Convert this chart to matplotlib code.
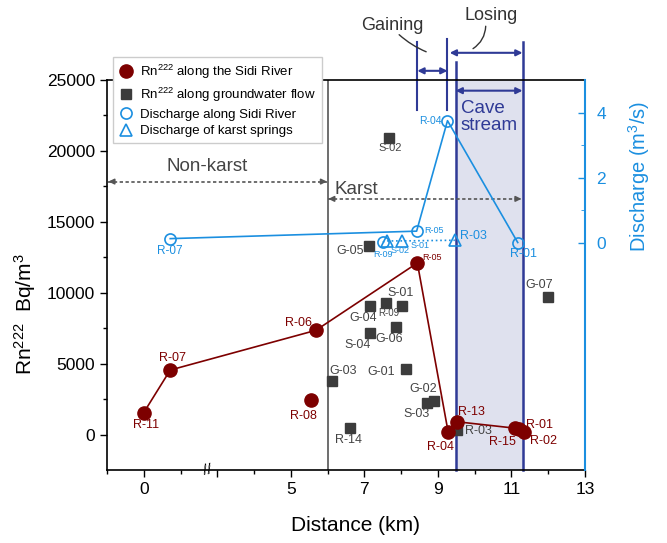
import numpy as np
import matplotlib.pyplot as plt

plt.rcParams['font.family'] = ['Liberation Sans', 'DejaVu Sans']
plt.rcParams['mathtext.fontset'] = 'custom'
plt.rcParams['mathtext.rm'] = 'Liberation Sans'
plt.rcParams['mathtext.it'] = 'Liberation Sans:italic'

RED = '#7d0000'
GREY = '#3c3c3c'
BLUE = '#1b8fe0'
NAVY = '#2f3a96'
TXT = '#444444'

# Rn222 along the Sidi River (connected line)
river_ids = ['R-11', 'R-07', 'R-06', 'R-05', 'R-04', 'R-13', 'R-15', 'R-01', 'R-02']
river_km = [0.0, 0.9, 5.68, 8.44, 9.28, 9.53, 11.1, 11.2, 11.33]
river_rn = [1550, 4550, 7350, 12100, 150, 900, 450, 400, 200]
# R-08 is not on the line
r08_km, r08_rn = 5.55, 2450

# Rn222 along groundwater flow
gw_ids = ['S-02', 'G-05', 'G-07', 'S-01', 'R-09', 'G-04', 'G-06', 'S-04',
          'G-01', 'G-03', 'G-02', 'S-03', 'R-14', 'R-03']
gw_km = [7.67, 7.12, 11.98, 8.03, 7.58, 7.15, 7.87, 7.15,
         8.12, 6.12, 8.88, 8.69, 6.62, 9.51]
gw_rn = [20900, 13300, 9700, 9050, 9250, 9100, 7600, 7150,
         4650, 3750, 2350, 2250, 450, 300]

# discharge along Sidi River (m3/s)
q_ids = ['R-07', 'R-05', 'R-04', 'R-01']
q_km = [0.9, 8.42, 9.26, 11.17]
q_val = [0.12, 0.35, 3.75, 0.0]
r09_q_km, r09_q = 7.5, 0.02

# discharge of karst springs
spring_ids = ['S-02', 'S-01', 'R-03']
spring_km = [7.62, 8.02, 9.46]
spring_q = [0.05, 0.05, 0.07]


# broken distance axis: 0-5 km squeezed
def fwd(x):
    x = np.asarray(x, dtype=float)
    return np.where(x < 5, 1 + 0.8 * x, x)


def inv(p):
    p = np.asarray(p, dtype=float)
    return np.where(p < 5, (p - 1) / 0.8, p)


fig = plt.figure(figsize=(6.67, 5.43), dpi=100)
ax = fig.add_axes([0.1604, 0.1344, 0.7167, 0.7182])
ax.set_xscale('function', functions=(fwd, inv))
ax.set_xlim(-1.25, 13)
ax.set_ylim(-2500, 25000)

ax.set_xticks([0, 2.5, 5, 7, 9, 11, 13])
ax.set_xticklabels(['0', '', '5', '7', '9', '11', '13'])
ax.set_xticks([-1.25, 1.25, 3.75, 6, 8, 10, 12], minor=True)
ax.set_yticks(np.arange(0, 25001, 5000))
ax.set_yticks(np.arange(2500, 25000, 5000), minor=True)
ax.tick_params(labelsize=12.5, length=5, width=1)
ax.tick_params(which='minor', length=3, width=1)
ax.spines['right'].set_visible(False)
for s in ['left', 'top', 'bottom']:
    ax.spines[s].set_linewidth(1.2)

ax.text(2.15, -2500, '//', ha='center', va='center', fontsize=11, rotation=10)

# karst / non-karst boundary and cave stream
ax.axvline(6, color='#555555', lw=1.2, zorder=1)
ax.axvspan(9.48, 11.3, color='#dfe1ee', zorder=0)
ax.plot([9.48, 9.48], [-2500, 26270], color=NAVY, lw=1.8, clip_on=False, zorder=2)
ax.plot([11.3, 11.3], [-2500, 27680], color=NAVY, lw=1.8, clip_on=False, zorder=2)
ax.plot([8.44, 8.44], [22890, 27700], color=NAVY, lw=1.5, clip_on=False)
ax.plot([9.26, 9.26], [22890, 27860], color=NAVY, lw=1.5, clip_on=False)

arrow = dict(arrowstyle='<|-|>', color=NAVY, lw=1.5, shrinkA=0, shrinkB=0,
             mutation_scale=9)
ax.annotate('', xy=(8.44, 25650), xytext=(9.26, 25650), arrowprops=arrow,
            annotation_clip=False)
ax.annotate('', xy=(9.32, 26920), xytext=(11.3, 26920), arrowprops=arrow,
            annotation_clip=False)
ax.annotate('', xy=(9.48, 24250), xytext=(11.3, 24250), arrowprops=arrow,
            annotation_clip=False)

ax.text(7.76, 28870, 'Gaining', ha='center', va='center', fontsize=13, color='#333333')
ax.text(10.44, 29580, 'Losing', ha='center', va='center', fontsize=13, color='#333333')
ax.annotate('', xy=(8.75, 26920), xytext=(7.89, 28330), annotation_clip=False,
            arrowprops=dict(arrowstyle='-', color='#333333', lw=1,
                            connectionstyle='arc3,rad=0.1'))
ax.annotate('', xy=(9.89, 27110), xytext=(10.3, 28990), annotation_clip=False,
            arrowprops=dict(arrowstyle='-', color='#333333', lw=1,
                            connectionstyle='arc3,rad=-0.3'))
ax.text(9.62, 22360, 'Cave\nstream', ha='left', va='center', fontsize=13.5,
        color=NAVY, linespacing=1.0)


def dashed_arrow(x0, x1, y):
    ax.plot([x0, x1], [y, y], color='#555555', lw=1.2, ls=(0, (2, 1.5)), zorder=2)
    hp = dict(arrowstyle='-|>', color='#555555', lw=1.2, shrinkA=0, shrinkB=0,
              mutation_scale=8)
    ax.annotate('', xy=(x0, y), xytext=(inv(fwd(x0) + 0.15), y), arrowprops=hp)
    ax.annotate('', xy=(x1, y), xytext=(inv(fwd(x1) - 0.15), y), arrowprops=hp)


dashed_arrow(-1.2, 5.98, 17840)
dashed_arrow(6.02, 11.27, 16620)
ax.text(2.14, 18900, 'Non-karst', ha='center', va='center', fontsize=13.5, color=TXT)
ax.text(6.2, 17250, 'Karst', ha='left', va='center', fontsize=13.5, color=TXT)

# Rn222 points
ax.plot(river_km, river_rn, '-', color=RED, lw=1.2, zorder=4)
h_river, = ax.plot(river_km + [r08_km], river_rn + [r08_rn], 'o', color=RED,
                   ms=9.5, ls='none', zorder=5, label=r'Rn$^{222}$ along the Sidi River')
h_gw, = ax.plot(gw_km, gw_rn, 's', color=GREY, ms=6.5, ls='none', zorder=3,
                label=r'Rn$^{222}$ along groundwater flow')

# label offsets in pixels, fontsize
river_lab = {'R-11': (2, -12, 9), 'R-07': (2, 12, 9), 'R-06': (-17, 7, 9),
             'R-05': (15, 5, 6.5), 'R-04': (-8, -15, 9), 'R-13': (14, 10, 9),
             'R-15': (-13, -14, 9), 'R-01': (21, 4, 9), 'R-02': (20, -9, 9)}
for name, x, y in zip(river_ids, river_km, river_rn):
    dx, dy, fs = river_lab[name]
    ax.annotate(name, (x, y), xytext=(dx, dy), textcoords='offset pixels',
                ha='center', va='center', fontsize=fs, color=RED, zorder=6)
ax.annotate('R-08', (r08_km, r08_rn), xytext=(-8, -16), textcoords='offset pixels',
            ha='center', va='center', fontsize=9, color=RED)

gw_lab = {'S-02': (1, -10, 8), 'G-05': (-19, -5, 9), 'G-07': (-8, 12, 9),
          'S-01': (-2, 13, 9), 'R-09': (3, -10, 7), 'G-04': (-7, -12, 9),
          'G-06': (-7, -12, 9), 'S-04': (-12, -12, 9), 'G-01': (-24, -3, 9),
          'G-03': (11, 10, 9), 'G-02': (-10, 12, 9), 'S-03': (-10, -11, 9),
          'R-14': (-2, -12, 9), 'R-03': (22, -1, 9)}
for name, x, y in zip(gw_ids, gw_km, gw_rn):
    dx, dy, fs = gw_lab[name]
    ax.annotate(name, (x, y), xytext=(dx, dy), textcoords='offset pixels',
                ha='center', va='center', fontsize=fs, color=TXT)

# discharge axis
ax2 = ax.twinx()
ax2.set_ylim(-7, 5)
ax2.set_yticks([0, 2, 4])
ax2.set_yticks([1, 3], minor=True)
ax2.tick_params(axis='y', direction='in', colors=BLUE, labelsize=12.5, length=5,
                width=1, pad=8)
ax2.tick_params(axis='y', which='minor', direction='in', length=3, color=BLUE)
for s in ['left', 'top', 'bottom']:
    ax2.spines[s].set_visible(False)
ax2.spines['right'].set_color(BLUE)
ax2.spines['right'].set_linewidth(1.5)

ax2.plot(q_km, q_val, '-', color=BLUE, lw=1.2, zorder=3)
ax2.plot(spring_km, spring_q, ':', color=BLUE, lw=1.2, zorder=3)
ax2.plot([r09_q_km, spring_km[0]], [r09_q, spring_q[0]], ':', color=BLUE, lw=1.2)
h_q, = ax2.plot(q_km + [r09_q_km], q_val + [r09_q], 'o', mfc='none', mec=BLUE,
                mew=1.2, ms=8, ls='none', zorder=4, label='Discharge along Sidi River')
h_sp, = ax2.plot(spring_km, spring_q, '^', mfc='none', mec=BLUE, mew=1.2, ms=8,
                 ls='none', zorder=4, label='Discharge of karst springs')

q_lab = {'R-07': (0, -12, 8.5), 'R-05': (17, 1, 6.5), 'R-04': (-17, 0, 7.5),
         'R-01': (6, -11, 9)}
for name, x, y in zip(q_ids, q_km, q_val):
    dx, dy, fs = q_lab[name]
    ax2.annotate(name, (x, y), xytext=(dx, dy), textcoords='offset pixels',
                 ha='center', va='center', fontsize=fs, color=BLUE)
ax2.annotate('R-09', (r09_q_km, r09_q), xytext=(0, -13), textcoords='offset pixels',
             ha='center', va='center', fontsize=6.5, color=BLUE)
sp_lab = {'S-02': (13, -10, 6.5), 'S-01': (18, -5, 6.5), 'R-03': (19, 4, 9)}
for name, x, y in zip(spring_ids, spring_km, spring_q):
    dx, dy, fs = sp_lab[name]
    ax2.annotate(name, (x, y), xytext=(dx, dy), textcoords='offset pixels',
                 ha='center', va='center', fontsize=fs, color=BLUE)

ax.set_xlabel('Distance (km)', fontsize=15)
ax.xaxis.set_label_coords(0.52, -0.118)
ax.set_ylabel(r'Rn$^{222}$  Bq/m$^3$', fontsize=15)
ax.yaxis.set_label_coords(-0.145, 0.4)
ax2.set_ylabel(r'Discharge (m$^3$/s)', fontsize=14.5, color=BLUE)
ax2.yaxis.set_label_coords(1.085, 0.754)

leg = ax2.legend(handles=[h_river, h_gw, h_q, h_sp], loc='upper left',
                 bbox_to_anchor=(113 / 667, 1 - 56.7 / 543),
                 bbox_transform=fig.transFigure, borderaxespad=0, fontsize=9.5,
                 fancybox=False, edgecolor='#cccccc', framealpha=1,
                 handlelength=1.0, handletextpad=0.6, labelspacing=0.35,
                 borderpad=0.45)
leg.set_zorder(10)

fig.savefig('out.png', dpi=100)
